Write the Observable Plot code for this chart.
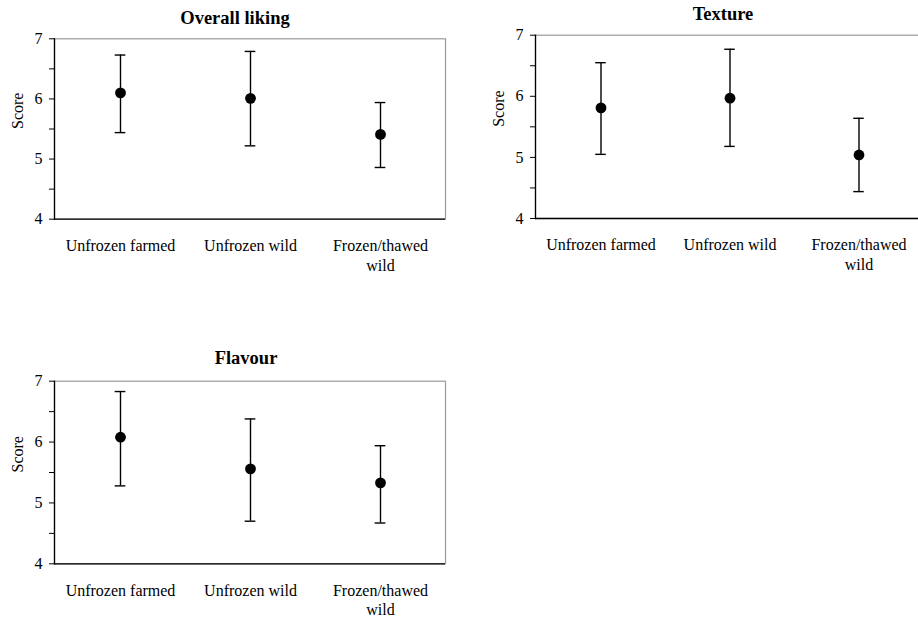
<!DOCTYPE html>
<html>
<head>
<meta charset="utf-8">
<script src="https://cdn.jsdelivr.net/npm/d3@7"></script>
<script src="https://cdn.jsdelivr.net/npm/@observablehq/plot@0.6"></script>
<style>
  html, body { margin: 0; padding: 0; background: #fff; overflow: hidden; }
  #root { position: relative; width: 918px; height: 619px; overflow: hidden; background: #fff; }
  .panel { position: absolute; }
  .panel svg { max-width: none !important; }
  .title { position: absolute; transform: translateX(-50%); font-family: "Liberation Serif", "Times New Roman", serif; font-weight: bold; font-size: 18.5px; color: #000; white-space: nowrap; line-height: 1; }
</style>
</head>
<body>
<div id="root"></div>
<script>
const categories = ["Unfrozen farmed", "Unfrozen wild", "Frozen/thawed wild"];
const tickLabels = ["Unfrozen farmed", "Unfrozen wild", "Frozen/thawed\nwild"];
const yTicks = [4, 4.5, 5, 5.5, 6, 6.5, 7];
const yLabeled = [4, 5, 6, 7];

const overallMean = [6.10, 6.01, 5.41];
const overallLow  = [5.44, 5.22, 4.86];
const overallHigh = [6.73, 6.79, 5.94];

const textureMean = [5.81, 5.97, 5.04];
const textureLow  = [5.05, 5.18, 4.44];
const textureHigh = [6.55, 6.77, 5.64];

const flavourMean = [6.08, 5.56, 5.33];
const flavourLow  = [5.28, 4.70, 4.67];
const flavourHigh = [6.83, 6.38, 5.94];

const panels = [
  {title: "Overall liking", mean: overallMean, low: overallLow, high: overallHigh,
   left: 0, top: 0, width: 460, height: 300, mt: 38.3, mb: 81.3, ml: 54, mr: 15, tx: 235, ty: 9},
  {title: "Texture", mean: textureMean, low: textureLow, high: textureHigh,
   left: 480, top: 0, width: 450, height: 300, mt: 34.7, mb: 82, ml: 55, mr: 6.5, tx: 723, ty: 5},
  {title: "Flavour", mean: flavourMean, low: flavourLow, high: flavourHigh,
   left: 0, top: 330, width: 460, height: 290, mt: 50.7, mb: 56.7, ml: 54, mr: 15, tx: 246, ty: 349}
];

const root = document.getElementById("root");

for (const p of panels) {
  const data = categories.map((c, i) => ({cat: c, mean: p.mean[i], low: p.low[i], high: p.high[i]}));
  const band = (p.width - p.ml - p.mr) / categories.length;
  const capInset = (band - 11) / 2;
  const chart = Plot.plot({
    width: p.width,
    height: p.height,
    marginTop: p.mt,
    marginBottom: p.mb,
    marginLeft: p.ml,
    marginRight: p.mr,
    style: {fontFamily: '"Liberation Serif", "Times New Roman", serif', fontSize: "16px", color: "#000", background: "transparent", overflow: "visible", maxWidth: "none"},
    x: {domain: categories, padding: 0},
    y: {domain: [4, 7]},
    marks: [
      Plot.frame({stroke: "#9a9a9a", strokeWidth: 1.2}),
      Plot.axisX({
        tickSize: 0, tickPadding: 18, lineHeight: 1.22, label: null,
        tickFormat: (d) => tickLabels[categories.indexOf(d)]
      }),
      Plot.ruleY([4], {stroke: "#000", strokeWidth: 1.3}),
      Plot.axisY({
        ticks: yTicks, tickSize: 5, tickPadding: 7, label: null,
        tickFormat: (d) => yLabeled.includes(d) ? String(d) : ""
      }),
      Plot.frame({anchor: "left", stroke: "#000", strokeWidth: 1.3}),
      Plot.text(["Score"], {frameAnchor: "left", dx: -37, rotate: -90, fontSize: 16}),
      Plot.ruleX(data, {x: "cat", y1: "low", y2: "high", stroke: "#000", strokeWidth: 1.4}),
      Plot.tickY(data, {x: "cat", y: "high", stroke: "#000", strokeWidth: 1.4, inset: capInset}),
      Plot.tickY(data, {x: "cat", y: "low", stroke: "#000", strokeWidth: 1.4, inset: capInset}),
      Plot.dot(data, {x: "cat", y: "mean", r: 5.4, fill: "#000", stroke: "none"})
    ]
  });
  const wrap = document.createElement("div");
  wrap.className = "panel";
  wrap.style.left = p.left + "px";
  wrap.style.top = p.top + "px";
  wrap.style.width = p.width + "px";
  wrap.style.height = p.height + "px";
  wrap.appendChild(chart);
  root.appendChild(wrap);

  const t = document.createElement("div");
  t.className = "title";
  t.textContent = p.title;
  t.style.left = p.tx + "px";
  t.style.top = p.ty + "px";
  root.appendChild(t);
}
</script>
</body>
</html>
